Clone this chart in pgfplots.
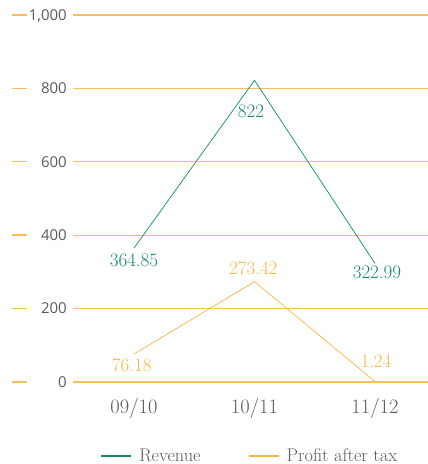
\documentclass[border=0pt]{standalone}
\usepackage{pgfplots}
\pgfplotsset{compat=1.18}
\usepackage{fontspec}
\newfontfamily\tickfont{Open Sans}
\definecolor{revgreen}{HTML}{17876A}
\definecolor{profitorange}{HTML}{F8B743}
\definecolor{gridorange}{HTML}{F8C05A}
\definecolor{labelgray}{HTML}{5A5A5A}

\begin{document}
\begin{tikzpicture}
\useasboundingbox (0,0) rectangle (428pt,464pt);
\begin{axis}[
  at={(73pt,82pt)}, anchor=south west,
  scale only axis, width=355pt, height=367pt,
  xmin=-0.506, xmax=2.44, ymin=0, ymax=1000,
  xtick={0,1,2}, xticklabels={09/10,10/11,11/12},
  ytick={0,200,400,600,800,1000},
  axis line style={draw=none},
  tick pos=left, tick align=outside,
  xtick style={draw=none},
  major tick length=15pt,
  % short dash standing apart from the grid, left of the labels
  ytick style={gridorange!95!orange, line width=1.4pt, xshift=-46pt},
  ymajorgrids,
  major grid style={gridorange, line width=1.3pt},
  clip=false,
  xticklabel style={font=\fontsize{20.5}{24}\selectfont, text=labelgray,
    anchor=base, inner sep=0pt, yshift=-17pt},
  yticklabel style={anchor=east, inner sep=0pt, xshift=9pt,
    text height=10.7pt, text depth=0pt,
    font=\tickfont\fontsize{15}{18}\selectfont, text=labelgray},
  y tick label style={/pgf/number format/assume math mode=true,
    /pgf/number format/1000 sep={,}},
  legend style={at={(rel axis cs:0.505,-0.2016)}, anchor=center,
    draw=none, fill=none, font=\fontsize{18.3}{21}\selectfont, text=labelgray,
    /tikz/every even column/.append style={column sep=40pt},
    nodes={inner xsep=7pt}},
  legend columns=2,
  legend image code/.code={\draw[#1, line width=2pt] (0pt,0pt) -- (30pt,0pt);},
]
\addplot[revgreen, line width=0.7pt] coordinates {(0,364.85) (1,822) (2,322.99)};
\addlegendentry{Revenue}
\addplot[profitorange, line width=0.7pt] coordinates {(0,76.18) (1,273.42) (2,1.24)};
\addlegendentry{Profit after tax}

% value labels
\begin{scope}[every node/.style={font=\fontsize{19}{22}\selectfont, inner sep=0pt}]
\node[text=revgreen, yshift=-12.5pt] at (axis cs:0,364.85) {364.85};
\node[text=revgreen, xshift=-3.5pt, yshift=-30.6pt] at (axis cs:1,822) {822};
\node[text=revgreen, xshift=2pt, yshift=-8.5pt] at (axis cs:2,322.99) {322.99};
\node[text=profitorange, xshift=-2.3pt, yshift=-11pt] at (axis cs:0,76.18) {76.18};
\node[text=profitorange, xshift=-1.2pt, yshift=13.4pt] at (axis cs:1,273.42) {273.42};
\node[text=profitorange, xshift=1pt, yshift=20.5pt] at (axis cs:2,1.24) {1.24};
\end{scope}
\end{axis}
\end{tikzpicture}
\end{document}
